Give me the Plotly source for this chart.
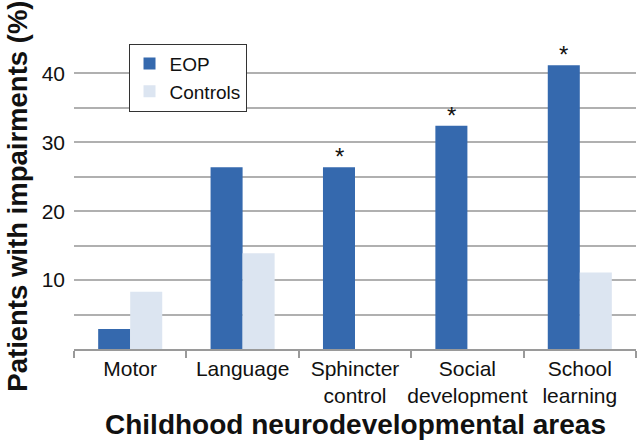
import plotly.graph_objects as go

categories = ["Motor", "Language", "Sphincter<br>control", "Social<br>development", "School<br>learning"]
eop_values = [2.9, 26.4, 26.4, 32.4, 41.2]
control_values = [8.3, 13.9, 0, 0, 11.1]
significant = [False, False, True, True, True]
y_tick_values = [10, 20, 30, 40]
y_tick_labels = ["10", "20", "30", "40"]
x_title = "Childhood neurodevelopmental areas"
y_title = "Patients with impairments (%)"

FONT = "Liberation Sans, Arial, sans-serif"

fig = go.Figure()
fig.add_trace(go.Bar(
    x=categories, y=eop_values, name="EOP",
    marker=dict(color="#3569AE", line=dict(width=0)),
))
fig.add_trace(go.Bar(
    x=categories, y=control_values, name="Controls",
    marker=dict(color="#DCE5F1", line=dict(width=0)),
))

for cat, val, sig in zip(categories, eop_values, significant):
    if sig:
        fig.add_annotation(
            x=cat, y=val, text="*", showarrow=False,
            xshift=-16, yanchor="bottom", yshift=-5,
            font=dict(family=FONT, size=24, color="#111111"),
        )

fig.add_annotation(
    xref="paper", yref="paper", x=0.5, y=-0.245, xanchor="center", yanchor="middle",
    text="<b>" + x_title + "</b>", showarrow=False,
    font=dict(family=FONT, size=28, color="#111111"),
)
fig.add_annotation(
    xref="paper", yref="paper", x=-0.1, y=0.494, xanchor="center", yanchor="middle",
    text="<b>" + y_title + "</b>", showarrow=False, textangle=-90,
    font=dict(family=FONT, size=27.5, color="#111111"),
)

fig.update_layout(
    width=638, height=444,
    margin=dict(l=74, r=2, t=39, b=95, autoexpand=False),
    paper_bgcolor="white", plot_bgcolor="white",
    barmode="group", bargap=0.43, bargroupgap=0,
    font=dict(family=FONT, size=21, color="#111111"),
    showlegend=True,
    legend=dict(
        x=0.097, y=0.985, xanchor="left", yanchor="top",
        bgcolor="white", bordercolor="#333333", borderwidth=1,
        font=dict(family=FONT, size=19, color="#111111"),
        itemwidth=30, tracegroupgap=0,
    ),
)

fig.update_xaxes(
    automargin=False, tickangle=0,
    showline=True, linecolor="#9a9a9a", linewidth=1.5,
    ticks="outside", tickson="boundaries", ticklen=7, tickcolor="#9a9a9a", tickwidth=1.5,
    tickfont=dict(family=FONT, size=21, color="#111111"),
    showgrid=False,
)
fig.update_yaxes(
    automargin=False,
    range=[0, 45], tickvals=y_tick_values, ticktext=y_tick_labels,
    showgrid=True, gridcolor="#b0b0b0", gridwidth=1.5,
    minor=dict(dtick=5, tick0=0, showgrid=True, gridcolor="#b0b0b0", gridwidth=1.5),
    showline=False, zeroline=False, ticks="",
    ticklabelstandoff=8,
    tickfont=dict(family=FONT, size=21, color="#111111"),
)

fig.write_html("out.html", config={"displayModeBar": False},
               post_script="document.body.style.margin='0';")
